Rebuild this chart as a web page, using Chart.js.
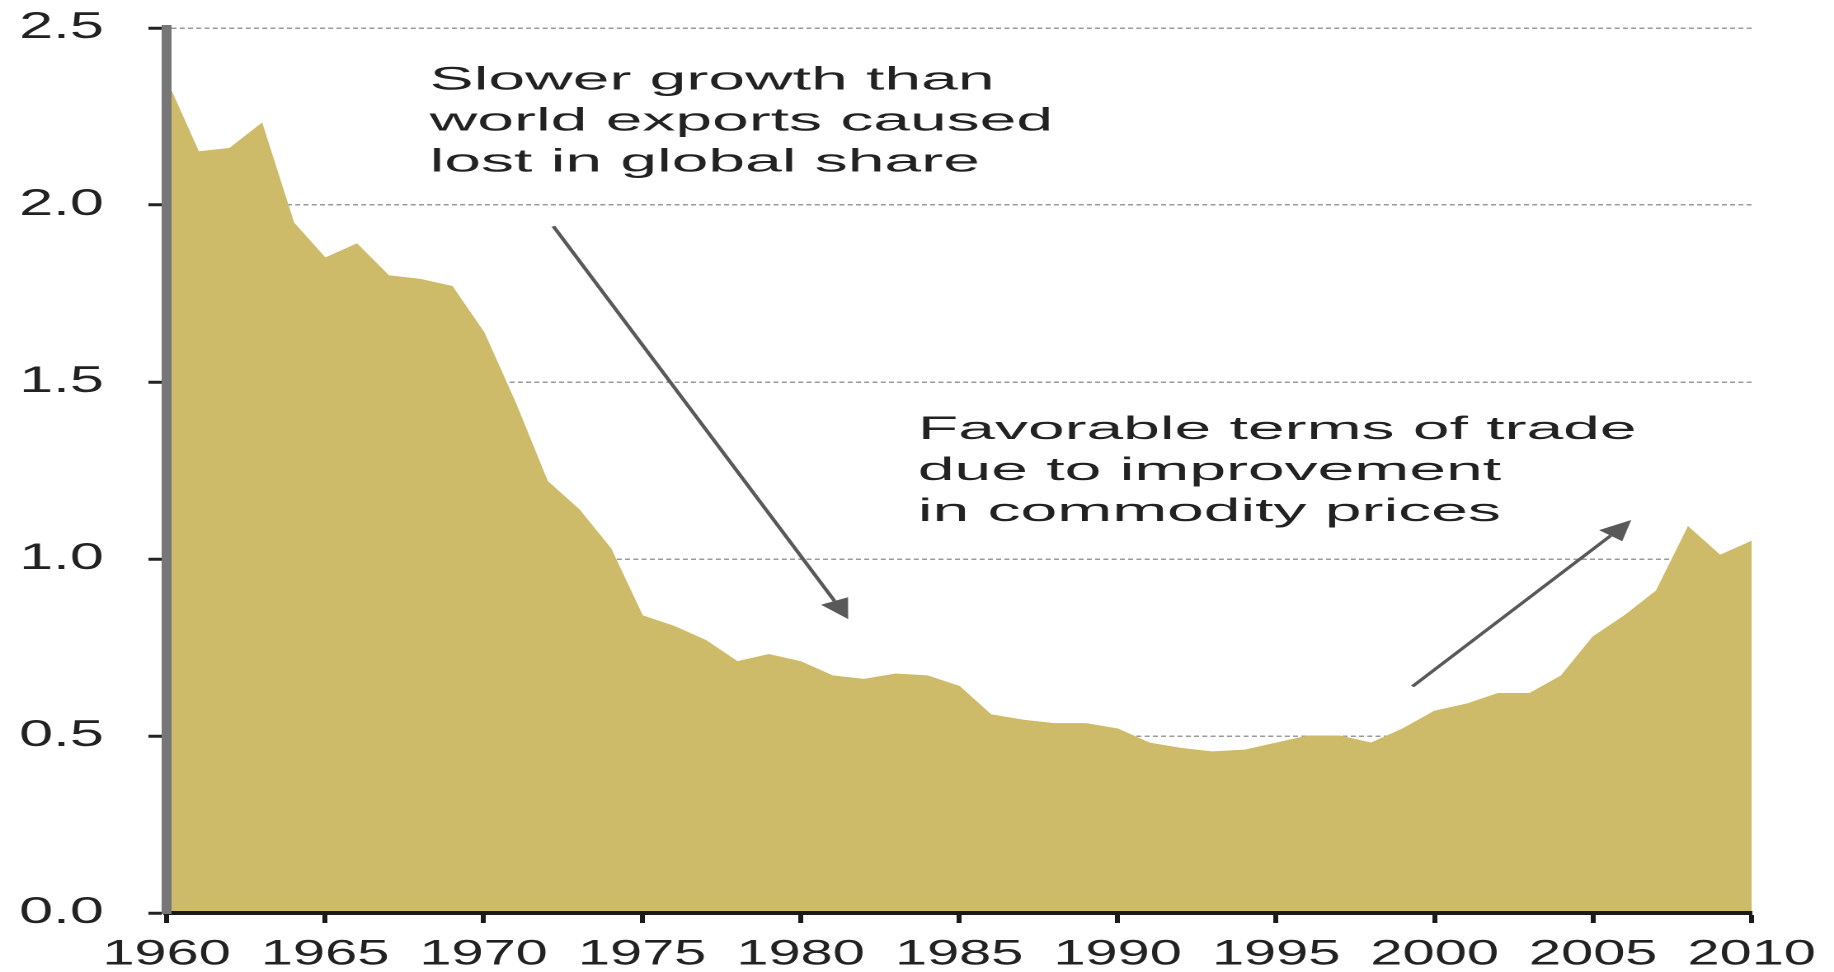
<!DOCTYPE html>
<html>
<head>
<meta charset="utf-8">
<script src="https://cdn.jsdelivr.net/npm/chart.js@4.4.1/dist/chart.umd.min.js"></script>
<style>
  html, body { margin: 0; padding: 0; background: #fff; overflow: hidden; }
  /* the source picture is stretched sideways, so the chart is drawn narrow and widened */
  #wrap { width: 1112px; height: 972px; transform: scaleX(1.6493); transform-origin: 0 0; }
</style>
</head>
<body>
<div id="wrap"><canvas id="chart"></canvas></div>
<script>
// years on the x axis
const years = [
  1960, 1961, 1962, 1963, 1964, 1965, 1966, 1967, 1968, 1969,
  1970, 1971, 1972, 1973, 1974, 1975, 1976, 1977, 1978, 1979,
  1980, 1981, 1982, 1983, 1984, 1985, 1986, 1987, 1988, 1989,
  1990, 1991, 1992, 1993, 1994, 1995, 1996, 1997, 1998, 1999,
  2000, 2001, 2002, 2003, 2004, 2005, 2006, 2007, 2008, 2009, 2010
];

// share of world exports (%)
const shareValues = [
  2.35, 2.15, 2.16, 2.23, 1.95, 1.85, 1.89, 1.80, 1.79, 1.77,
  1.64, 1.44, 1.22, 1.14, 1.03, 0.84, 0.81, 0.77, 0.71, 0.73,
  0.71, 0.67, 0.66, 0.675, 0.67, 0.64, 0.56, 0.545, 0.535, 0.535,
  0.52, 0.48, 0.465, 0.455, 0.46, 0.48, 0.50, 0.50, 0.48, 0.52,
  0.57, 0.59, 0.62, 0.62, 0.67, 0.78, 0.84, 0.91, 1.09, 1.01, 1.05
];

const yTicks = [0, 0.5, 1.0, 1.5, 2.0, 2.5];
const xTickStep = 5;

// notes: left edge year, first baseline value
const notes = [
  { year: 1968.3, value: 2.326, lines: ['Slower growth than', 'world exports caused', 'lost in global share'] },
  { year: 1983.7, value: 1.339, lines: ['Favorable terms of trade', 'due to improvement', 'in commodity prices'] }
];

// arrows: from -> to, in data units
const arrows = [
  { from: [1972.2, 1.94], to: [1981.5, 0.83] },
  { from: [1999.3, 0.64], to: [2006.2, 1.11] }
];

const FONT = '"Liberation Sans", Arial, Helvetica, sans-serif';

function drawArrow(ctx, x1, y1, x2, y2) {
  const ang = Math.atan2(y2 - y1, x2 - x1);
  const head = 20, half = 9;
  const bx = x2 - head * Math.cos(ang);
  const by = y2 - head * Math.sin(ang);
  ctx.beginPath();
  ctx.moveTo(x1, y1);
  ctx.lineTo(bx, by);
  ctx.stroke();
  ctx.beginPath();
  ctx.moveTo(x2, y2);
  ctx.lineTo(bx + half * Math.sin(ang), by - half * Math.cos(ang));
  ctx.lineTo(bx - half * Math.sin(ang), by + half * Math.cos(ang));
  ctx.closePath();
  ctx.fill();
}

const notesPlugin = {
  id: 'notes',
  afterDatasetsDraw(chart) {
    const { ctx, scales: { x, y } } = chart;
    ctx.save();
    ctx.fillStyle = '#222';
    ctx.font = '32px ' + FONT;
    ctx.textBaseline = 'alphabetic';
    notes.forEach((note) => {
      const px = x.getPixelForValue(note.year);
      const py = y.getPixelForValue(note.value);
      note.lines.forEach((line, i) => {
        ctx.save();
        ctx.translate(px, py + i * 41);
        ctx.scale(1.25, 1);
        ctx.fillText(line, 0, 0);
        ctx.restore();
      });
    });

    ctx.strokeStyle = '#595959';
    ctx.fillStyle = '#595959';
    ctx.lineWidth = 2.5;
    arrows.forEach((a) => {
      drawArrow(ctx,
        x.getPixelForValue(a.from[0]), y.getPixelForValue(a.from[1]),
        x.getPixelForValue(a.to[0]), y.getPixelForValue(a.to[1]));
    });
    ctx.restore();
  }
};

new Chart(document.getElementById('chart'), {
  type: 'line',
  data: {
    labels: years,
    datasets: [{
      data: shareValues.map((v, i) => ({ x: years[i], y: v })),
      fill: 'origin',
      backgroundColor: '#CEBB69',
      borderColor: '#CEBB69',
      borderWidth: 1,
      pointRadius: 0,
      tension: 0
    }]
  },
  options: {
    responsive: true,
    maintainAspectRatio: false,
    animation: false,
    devicePixelRatio: 2,
    layout: { padding: { top: 28, left: 0, right: 46, bottom: 0 } },
    plugins: { legend: { display: false }, tooltip: { enabled: false } },
    scales: {
      x: {
        type: 'linear',
        min: years[0],
        max: years[years.length - 1],
        afterFit: (scale) => { scale.height = 59; },
        ticks: {
          stepSize: xTickStep,
          autoSkip: false,
          maxRotation: 0,
          padding: 11,
          color: '#222',
          font: { family: FONT, size: 35 },
          callback: (v) => String(v)
        },
        grid: {
          drawOnChartArea: false,
          drawTicks: true,
          tickLength: 10,
          tickWidth: 3,
          tickColor: '#1a1a1a'
        },
        border: { display: true, color: '#1a1a1a', width: 4, z: 1 }
      },
      y: {
        min: 0,
        max: 2.5,
        afterFit: (scale) => {
          scale.width = 101;
          scale.paddingTop = 0;
          scale.paddingBottom = 0;
        },
        afterBuildTicks: (scale) => { scale.ticks = yTicks.map((v) => ({ value: v })); },
        ticks: {
          padding: 27,
          color: '#222',
          font: { family: FONT, size: 37 },
          callback: (v) => v.toFixed(1)
        },
        grid: {
          color: '#9a9a9a',
          lineWidth: 1.5,
          drawTicks: true,
          tickLength: 11,
          tickWidth: 3,
          tickColor: '#222'
        },
        border: { display: true, color: '#767676', width: 6, dash: [3, 2], z: 1 }
      }
    }
  },
  plugins: [notesPlugin]
});
</script>
</body>
</html>
